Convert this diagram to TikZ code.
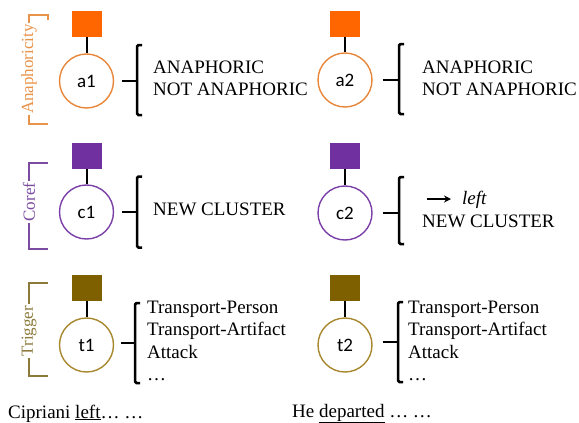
\documentclass[tikz,border=0pt]{standalone}
\usepackage{fontspec}
\setmainfont{Liberation Serif}
\newfontfamily\nodefont{Carlito}
\usetikzlibrary{arrows.meta}
\definecolor{anaSq}{HTML}{FF6600}
\definecolor{anaC}{HTML}{E8873A}
\definecolor{anaL}{HTML}{E8934A}
\definecolor{corSq}{HTML}{7030A0}
\definecolor{corC}{HTML}{7A40A8}
\definecolor{corL}{HTML}{7A4BA0}
\definecolor{trgSq}{HTML}{7F6000}
\definecolor{trgC}{HTML}{A8882E}
\definecolor{trgL}{HTML}{8C7A3C}
\tikzset{
  sq/.style={draw=none, fill=#1, minimum width=30, minimum height=26, inner sep=0},
  circ/.style={circle, draw=#1, line width=1.4pt, minimum size=54, inner sep=0, fill=white,
    font=\nodefont\fontsize{19}{22}\selectfont},
  txt/.style={anchor=base west, inner sep=0, font=\fontsize{19}{22}\selectfont},
  link/.style={line width=2pt, black},
  brc/.style={line width=2.5pt, black, rounded corners=1.5pt},
  lab/.style={rotate=90, fill=white, inner sep=1.5pt, text=#1, font=\fontsize{17}{19}\selectfont},
  lbr/.style={draw=#1, line width=1.3pt},
}
\begin{document}
\begin{tikzpicture}[x=1pt,y=-1pt]
\useasboundingbox (0,0) rectangle (579,423);

% ---------- side labels ----------
\draw[lbr=anaL] (48,20) -- (48,15) -- (29,15) -- (29,124) -- (48,124);
\node[lab=anaL] (labA) at (29,69) {Anaphoricity};
\draw[lbr=corL] (48,163) -- (29,163) -- (29,249) -- (48,249);
\node[lab=corL] (labC) at (29,202) {Coref};
\draw[lbr=trgL] (48,283) -- (29,283) -- (29,376) -- (48,376);
\node[lab=trgL] (labT) at (29,331) {Trigger};

% ---------- Anaphoricity row ----------
\node[sq=anaSq] (sa1) at (86.5,23.5) {};
\node[circ=anaC] (a1) at (86.5,81) {a1};
\coordinate (ba1) at (137,81);
\draw[link] (sa1.south) -- (a1.north);
\draw[link] ([xshift=7.5pt]a1.east) -- (ba1);
\draw[brc] (ba1) ++(5,-36) -- ++(-5,0) -- ++(0,70) -- ++(5,0);
\node[txt] (ta1a) at (153,73) {ANAPHORIC};
\node[txt] (ta1b) at (153,95.5) {NOT ANAPHORIC};

\node[sq=anaSq] (sa2) at (345,23.5) {};
\node[circ=anaC] (a2) at (345,80) {a2};
\coordinate (ba2) at (399,80);
\draw[link] (sa2.south) -- (a2.north);
\draw[link] ([xshift=10pt]a2.east) -- (ba2);
\draw[brc] (ba2) ++(5,-36) -- ++(-5,0) -- ++(0,70) -- ++(5,0);
\node[txt] (ta2a) at (422,73) {ANAPHORIC};
\node[txt] (ta2b) at (422,95.5) {NOT ANAPHORIC};

% ---------- Coref row ----------
\node[sq=corSq] (sc1) at (86.5,155.5) {};
\node[circ=corC] (c1) at (86.5,212) {c1};
\coordinate (bc1) at (137,212);
\draw[link] (sc1.south) -- (c1.north);
\draw[link] ([xshift=7.5pt]c1.east) -- (bc1);
\draw[brc] (bc1) ++(5,-35.5) -- ++(-5,0) -- ++(0,71) -- ++(5,0);
\node[txt] (tc1) at (153,215) {NEW CLUSTER};

\node[sq=corSq] (sc2) at (345,155.5) {};
\node[circ=corC] (c2) at (345,213) {c2};
\coordinate (bc2) at (399,213);
\draw[link] (sc2.south) -- (c2.north);
\draw[link] ([xshift=10pt]c2.east) -- (bc2);
\draw[brc] (bc2) ++(5,-36) -- ++(-5,0) -- ++(0,67) -- ++(5,0);
\coordinate (arS) at (427,199);
\coordinate (arE) at (451,199);
\draw[line width=1.8pt, -{Stealth[length=7pt,width=7pt]}] (arS) -- (arE);
\node[txt] (tc2a) at (462,204) {\itshape left};
\node[txt] (tc2b) at (422,227) {NEW CLUSTER};

% ---------- Trigger row ----------
\node[sq=trgSq] (st1) at (86.5,287.5) {};
\node[circ=trgC] (t1) at (86.5,345) {t1};
\coordinate (bt1) at (135,343);
\draw[link] (st1.south) -- (t1.north);
\draw[link] ([xshift=7pt]t1.east |- bt1) -- (bt1);
\draw[brc] (bt1) ++(5,-40) -- ++(-5,0) -- ++(0,80) -- ++(5,0);
\node[txt] (tt1a) at (147,313) {Transport-Person};
\node[txt] (tt1b) at (147,335.5) {Transport-Artifact};
\node[txt] (tt1c) at (147,358) {Attack};
\node[txt] (tt1d) at (147,380.5) {…};

\node[sq=trgSq] (st2) at (345,287.5) {};
\node[circ=trgC] (t2) at (345,345) {t2};
\coordinate (bt2) at (398,342);
\draw[link] (st2.south) -- (t2.north);
\draw[link] ([xshift=10pt]t2.east |- bt2) -- (bt2);
\draw[brc] (bt2) ++(5,-40) -- ++(-5,0) -- ++(0,80) -- ++(5,0);
\node[txt] (tt2a) at (408,313) {Transport-Person};
\node[txt] (tt2b) at (408,335.5) {Transport-Artifact};
\node[txt] (tt2c) at (408,358) {Attack};
\node[txt] (tt2d) at (408,380.5) {…};

% ---------- sentences ----------
\node[txt] (s1) at (8,418) {Cipriani \underline{left}… …};
\node[txt] (s2) at (292,417) {He \underline{departed} … …};
\end{tikzpicture}
\end{document}
